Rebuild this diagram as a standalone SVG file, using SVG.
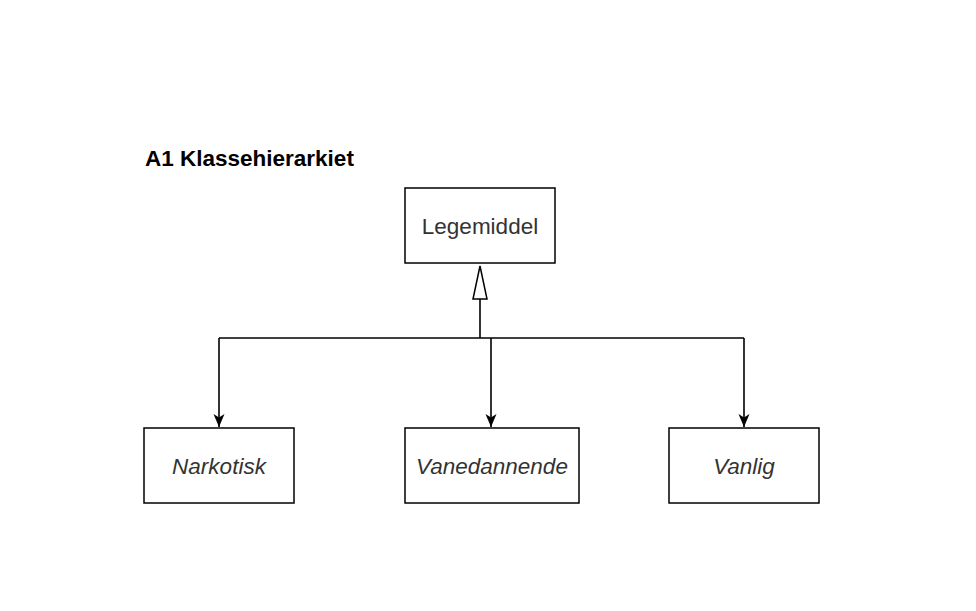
<svg xmlns="http://www.w3.org/2000/svg" width="976" height="611" viewBox="0 0 976 611">
<style>
.box{fill:#fff;stroke:#000;stroke-width:1.5}
.lbl{font-family:"Liberation Sans",Arial,sans-serif;font-size:22.5px;fill:#333;text-anchor:middle}
.it{font-style:italic}
.ln{fill:none;stroke:#000;stroke-width:1.6}
</style>
<defs>
<marker id="arr" markerWidth="14" markerHeight="14" viewBox="0 0 14 14" refX="13" refY="7" orient="auto" markerUnits="userSpaceOnUse">
<path d="M0,1.5 L13,7 L0,12.5 L3.5,7 Z" fill="#000"/>
</marker>
</defs>
<rect width="976" height="611" fill="#fff"/>
<text x="145" y="166" font-family="Liberation Sans,Arial,sans-serif" font-weight="bold" font-size="22.5" fill="#000">A1 Klassehierarkiet</text>
<g id="legemiddel"><rect class="box" x="405" y="188" width="150" height="75"/><text class="lbl" x="480" y="234">Legemiddel</text></g>
<g id="narkotisk"><rect class="box" x="144" y="428" width="150" height="75"/><text class="lbl it" x="219" y="474">Narkotisk</text></g>
<g id="vanedannende"><rect class="box" x="405" y="428" width="174" height="75"/><text class="lbl it" x="492" y="474">Vanedannende</text></g>
<g id="vanlig"><rect class="box" x="669" y="428" width="150" height="75"/><text class="lbl it" x="744" y="474">Vanlig</text></g>
<g id="connectors">
<path class="ln" d="M480,338 V299"/>
<path d="M480,266 L487,299 L473,299 Z" fill="#fff" stroke="#000" stroke-width="1.5"/>
<path class="ln" d="M219,338 H744"/>
<path class="ln" d="M219,338 V427" marker-end="url(#arr)"/>
<path class="ln" d="M491,338 V427" marker-end="url(#arr)"/>
<path class="ln" d="M744,338 V427" marker-end="url(#arr)"/>
</g>
</svg>
